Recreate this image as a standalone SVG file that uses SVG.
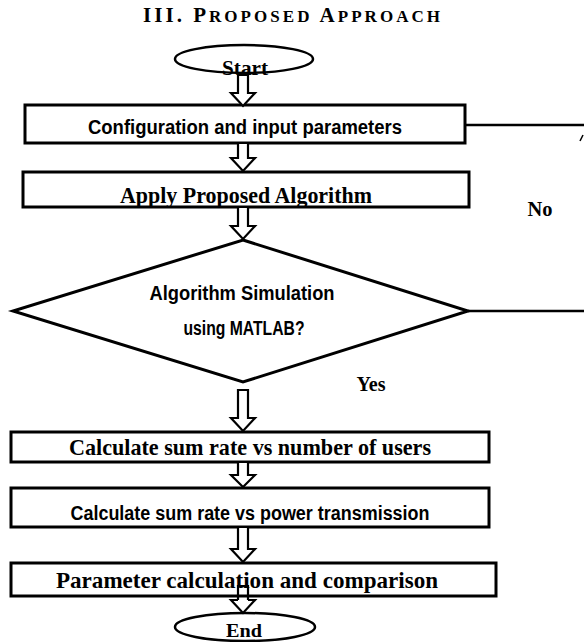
<svg xmlns="http://www.w3.org/2000/svg" width="584" height="642" viewBox="0 0 584 642">
<defs>
<style>
.box{fill:#fff;stroke:#000;stroke-width:3}
.term{fill:#fff;stroke:#000;stroke-width:2.5}
.arr{fill:#fff;stroke:#000;stroke-width:2.2;stroke-linejoin:miter}
.line{fill:none;stroke:#000;stroke-width:2.5}
.serif{font-family:"Liberation Serif","Times New Roman",serif;font-weight:bold;fill:#000}
.sans{font-family:"Liberation Sans",Arial,sans-serif;font-weight:bold;fill:#000}
</style>
</defs>
<rect width="584" height="642" fill="#fff"/>
<text class="serif" x="143" y="22" font-size="21" textLength="297" lengthAdjust="spacing">III. P<tspan font-size="17">ROPOSED</tspan> A<tspan font-size="17">PPROACH</tspan></text>

<g id="connectors">
<path class="line" d="M465,125 H584"/>
<path d="M580,141 L583,135" stroke="#000" stroke-width="1.5"/>
<path class="line" d="M468,311 H584"/>
</g>

<g id="start">
<ellipse class="term" cx="244" cy="59" rx="69" ry="14"/>
<text class="serif" x="245" y="75" font-size="22" text-anchor="middle" textLength="46" lengthAdjust="spacingAndGlyphs">Start</text>
</g>

<g id="config">
<rect class="box" x="25" y="105" width="440" height="38"/>
<text class="sans" x="245" y="134" font-size="20" text-anchor="middle" textLength="314" lengthAdjust="spacingAndGlyphs">Configuration and input parameters</text>
</g>

<g id="apply">
<rect class="box" x="23" y="172" width="446" height="35"/>
<text class="serif" x="246" y="203" font-size="23" text-anchor="middle" textLength="252" lengthAdjust="spacingAndGlyphs">Apply Proposed Algorithm</text>
</g>

<g id="decision">
<polygon class="box" points="243,240 468,311 243,382 13,311"/>
<text class="sans" x="242" y="300" font-size="20" text-anchor="middle" textLength="185" lengthAdjust="spacingAndGlyphs">Algorithm Simulation</text>
<text class="sans" x="244" y="335" font-size="20" text-anchor="middle" textLength="121" lengthAdjust="spacingAndGlyphs">using MATLAB?</text>
</g>

<g id="label-no">
<text class="serif" x="540" y="216" font-size="22" text-anchor="middle" textLength="25" lengthAdjust="spacingAndGlyphs">No</text>
</g>
<g id="label-yes">
<text class="serif" x="371" y="391" font-size="22" text-anchor="middle" textLength="29" lengthAdjust="spacingAndGlyphs">Yes</text>
</g>

<g id="calc-users">
<rect class="box" x="11" y="432" width="478" height="30"/>
<text class="serif" x="250" y="455" font-size="23" text-anchor="middle" textLength="362" lengthAdjust="spacingAndGlyphs">Calculate sum rate vs number of users</text>
</g>

<g id="calc-power">
<rect class="box" x="11" y="488" width="478" height="39"/>
<text class="sans" x="250" y="520" font-size="20" text-anchor="middle" textLength="359" lengthAdjust="spacingAndGlyphs">Calculate sum rate vs power transmission</text>
</g>

<g id="param">
<rect class="box" x="11" y="563" width="485" height="33"/>
<text class="serif" x="247" y="588" font-size="24" text-anchor="middle" textLength="382" lengthAdjust="spacingAndGlyphs">Parameter calculation and comparison</text>
</g>

<g id="end">
<ellipse class="term" cx="245" cy="627" rx="70" ry="14"/>
<text class="serif" x="244" y="637" font-size="19" text-anchor="middle" textLength="36" lengthAdjust="spacingAndGlyphs">End</text>
</g>

<g id="arrows">
<path class="arr" d="M238,75 V93 H231 L243,106 L255,93 H248 V75 Z"/>
<path class="arr" d="M238,143 V158 H231 L243,171 L255,158 H248 V143 Z"/>
<path class="arr" d="M238,207 V226 H231 L243,239 L255,226 H248 V207 Z"/>
<path class="arr" d="M238,390 V418 H231 L243,431 L255,418 H248 V390 Z"/>
<path class="arr" d="M238,462 V475 H231 L243,487 L255,475 H248 V462 Z"/>
<path class="arr" d="M238,527 V549 H231 L243,562 L255,549 H248 V527 Z"/>
<path class="arr" style="fill:none" d="M238,600 V586 H248 V600"/>
<path class="arr" d="M238,600 H231 L243,613 L255,600 H248"/>
</g>
</svg>
